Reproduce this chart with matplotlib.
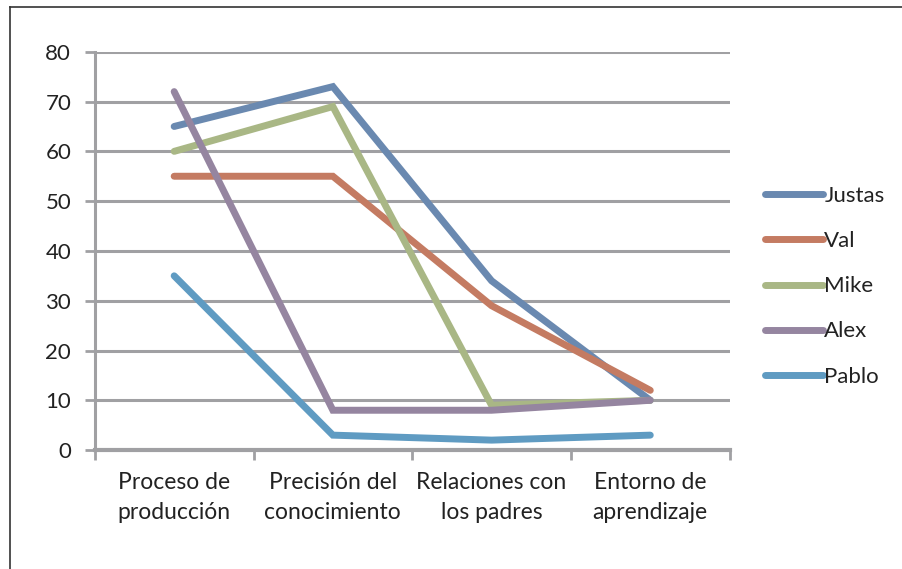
import matplotlib.pyplot as plt
from matplotlib.lines import Line2D

categories = ['Proceso de\nproducción', 'Precisión del\nconocimiento',
              'Relaciones con\nlos padres', 'Entorno de\naprendizaje']
names = ['Justas', 'Val', 'Mike', 'Alex', 'Pablo']
justas = [65, 73, 34, 10]
val = [55, 55, 29, 12]
mike = [60, 69, 9, 10]
alex = [72, 8, 8, 10]
pablo = [35, 3, 2, 3]
colors = ['#6A89B0', '#C47B62', '#A9B785', '#9585A0', '#5F9BC2']

plt.rcParams['font.family'] = ['Lato', 'DejaVu Sans']

fig = plt.figure(figsize=(9.03, 5.69), dpi=100, facecolor='white')
ax = fig.add_axes([0.105, 0.209, 0.703, 0.700])

grid_col = '#A0A0A3'
x = list(range(len(categories)))
for name, vals, c in zip(names, [justas, val, mike, alex, pablo], colors):
    ax.plot(x, vals, color=c, lw=5, solid_capstyle='round', solid_joinstyle='miter', label=name)

ax.set_ylim(0, 80)
ax.set_xlim(-0.5, 3.5)
ax.set_yticks(range(0, 81, 10))
ax.yaxis.grid(True, color=grid_col, lw=2.2)
ax.set_axisbelow(True)

# category boundaries get the tick marks, centres get the labels
ax.set_xticks([-0.5, 0.5, 1.5, 2.5, 3.5])
ax.set_xticklabels([])
ax.set_xticks(x, minor=True)
ax.set_xticklabels(categories, minor=True, fontsize=16.5, color='#222222', linespacing=1.5)
ax.tick_params(axis='x', which='major', length=7, width=2, color=grid_col, direction='out')
ax.tick_params(axis='x', which='minor', length=0, pad=16)
ax.tick_params(axis='y', length=7, width=2, color=grid_col, labelsize=16, labelcolor='#222222', pad=10)

for s in ['top', 'right']:
    ax.spines[s].set_visible(False)
ax.spines['left'].set_color(grid_col)
ax.spines['left'].set_linewidth(2.2)
ax.spines['bottom'].set_color(grid_col)
ax.spines['bottom'].set_linewidth(3)

leg = ax.legend(loc='center left', bbox_to_anchor=(1.025, 0.411), frameon=False,
                fontsize=16, handlelength=2.6, handletextpad=0.05, labelspacing=1.13)
for t in leg.get_texts():
    t.set_color('#222222')

# outer chart border (left and top only visible)
fig.add_artist(Line2D([0.011, 0.011], [0.0, 0.988], color='#333333', lw=1.2))
fig.add_artist(Line2D([0.011, 1.0], [0.988, 0.988], color='#333333', lw=1.2))

fig.savefig('out.png', dpi=100, facecolor='white')
